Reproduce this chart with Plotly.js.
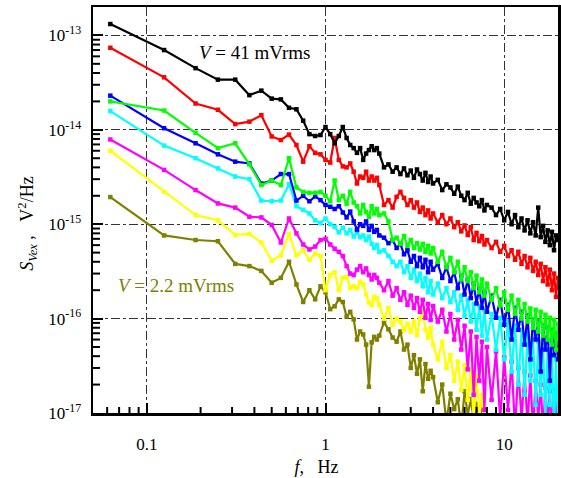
<!DOCTYPE html>
<html>
<head>
<meta charset="utf-8">
<script src="https://cdn.plot.ly/plotly-3.0.1.min.js"></script>
<style>
  html, body { margin: 0; padding: 0; background: #ffffff; }
  #chart { width: 561px; height: 478px; }
</style>
</head>
<body>
<div id="chart"></div>
<script>
// Frequency bins, Hz
const freq = [
  0.0625, 0.125, 0.1875, 0.25, 0.3125, 0.375, 0.4375, 0.5,
  0.5625, 0.625, 0.6875, 0.75, 0.8125, 0.875, 0.9375, 1.0,
  1.0625, 1.125, 1.1875, 1.25, 1.3125, 1.375, 1.4375, 1.5,
  1.5625, 1.625, 1.6875, 1.75, 1.8125, 1.875, 1.9375, 2.0,
  2.125, 2.25, 2.375, 2.5, 2.625, 2.75, 2.875, 3.0,
  3.125, 3.25, 3.375, 3.5, 3.625, 3.75, 3.875, 4.0,
  4.25, 4.5, 4.75, 5.0, 5.25, 5.5, 5.75, 6.0,
  6.25, 6.5, 6.75, 7.0, 7.25, 7.5, 7.75, 8.0,
  8.5, 9.0, 9.5, 10.0, 10.5, 11.0, 11.5, 12.0,
  12.5, 13.0, 13.5, 14.0, 14.5, 15.0, 15.5, 16.0,
  16.5, 17.0, 17.5, 18.0, 18.5, 19.0, 19.5, 20.0
];

// Noise spectral density S_Vex, V^2/Hz, one array per excitation amplitude
const s41 = [
  1.32e-13, 7.0e-14, 4.5e-14, 3.4e-14, 3.4e-14, 2.33e-14, 2.6e-14, 2.14e-14,
  2.1e-14, 1.71e-14, 1.65e-14, 1.25e-14, 9.0e-15, 8.6e-15, 8.8e-15, 1.07e-14,
  9.0e-15, 7.2e-15, 8.6e-15, 1.07e-14, 8.2e-15, 6.9e-15, 6.4e-15, 5.7e-15,
  6.4e-15, 4.8e-15, 5.6e-15, 6.1e-15, 6.7e-15, 6.1e-15, 6.4e-15, 5.6e-15,
  4.0e-15, 4.3e-15, 3.6e-15, 4.0e-15, 3.4e-15, 3.9e-15, 3.3e-15, 3.7e-15,
  3.1e-15, 3.8e-15, 3.4e-15, 2.9e-15, 3.5e-15, 2.8e-15, 3.2e-15, 2.7e-15,
  2.95e-15, 2.3e-15, 2.65e-15, 2.45e-15, 2.1e-15, 2.5e-15, 2.0e-15, 1.8e-15,
  2.15e-15, 1.65e-15, 1.9e-15, 1.7e-15, 1.55e-15, 1.8e-15, 1.4e-15, 1.6e-15,
  1.5e-15, 1.25e-15, 1.45e-15, 1.1e-15, 1.35e-15, 1.0e-15, 1.25e-15, 9.3e-16,
  1.15e-15, 8.6e-16, 1.1e-15, 8.0e-16, 1.05e-15, 7.6e-16, 1.5e-15, 7.3e-16,
  9.6e-16, 6.5e-16, 8.6e-16, 6.0e-16, 8.3e-16, 5.3e-16, 7.6e-16, 6.8e-16
];
const s31 = [
  7.4e-14, 3.6e-14, 1.9e-14, 1.63e-14, 1.15e-14, 1.22e-14, 1.43e-14, 8.5e-15,
  7.8e-15, 8.9e-15, 6.9e-15, 4.6e-15, 6.7e-15, 5.7e-15, 5.5e-15, 4.8e-15,
  4.5e-15, 8.2e-15, 4.8e-15, 4.1e-15, 4.0e-15, 4.4e-15, 3.6e-15, 2.7e-15,
  3.2e-15, 3.1e-15, 3.6e-15, 2.9e-15, 3.2e-15, 2.9e-15, 3.1e-15, 2.6e-15,
  1.6e-15, 1.8e-15, 1.5e-15, 1.95e-15, 2.2e-15, 1.9e-15, 1.6e-15, 1.8e-15,
  1.5e-15, 1.7e-15, 1.35e-15, 1.5e-15, 1.25e-15, 1.4e-15, 1.15e-15, 1.3e-15,
  1.05e-15, 1.25e-15, 1.0e-15, 1.15e-15, 9.3e-16, 1.05e-15, 8.4e-16, 9.7e-16,
  7.7e-16, 9.3e-16, 6.8e-16, 8.1e-16, 6.6e-16, 7.5e-16, 6.1e-16, 6.8e-16,
  5.6e-16, 6.5e-16, 5.1e-16, 5.9e-16, 4.6e-16, 5.3e-16, 4.2e-16, 5.1e-16,
  3.8e-16, 4.6e-16, 3.5e-16, 4.4e-16, 3.2e-16, 4.0e-16, 2.9e-16, 3.8e-16,
  2.5e-16, 3.5e-16, 2.3e-16, 3.3e-16, 2.0e-16, 3.0e-16, 1.7e-16, 2.7e-16
];
const s22 = [
  2.0e-14, 1.6e-14, 9.3e-15, 6.4e-15, 7.2e-15, 4.3e-15, 2.6e-15, 2.9e-15,
  2.6e-15, 5.0e-15, 2.45e-15, 2.2e-15, 2.15e-15, 2.15e-15, 2.2e-15, 2.0e-15,
  1.75e-15, 2.9e-15, 1.8e-15, 2.0e-15, 1.65e-15, 2.2e-15, 1.7e-15, 1.55e-15,
  1.3e-15, 1.6e-15, 1.35e-15, 1.2e-15, 1.55e-15, 1.3e-15, 1.45e-15, 1.25e-15,
  1.3e-15, 1.07e-15, 6.8e-16, 7.2e-16, 6.2e-16, 7.5e-16, 5.9e-16, 6.8e-16,
  5.6e-16, 6.3e-16, 5.4e-16, 6.2e-16, 5.1e-16, 5.9e-16, 4.9e-16, 5.6e-16,
  4.0e-16, 5.1e-16, 3.5e-16, 4.4e-16, 3.1e-16, 4.0e-16, 2.6e-16, 3.5e-16,
  2.5e-16, 3.1e-16, 2.1e-16, 2.85e-16, 1.9e-16, 2.6e-16, 1.75e-16, 2.35e-16,
  1.58e-16, 2.1e-16, 1.38e-16, 1.9e-16, 1.24e-16, 1.75e-16, 1.12e-16, 1.58e-16,
  1.0e-16, 1.43e-16, 9.3e-17, 1.28e-16, 8.0e-17, 1.24e-16, 7.3e-17, 1.18e-16,
  6.6e-17, 1.1e-16, 6.0e-17, 1.02e-16, 5.3e-17, 9.7e-17, 4.7e-17, 8.8e-17
];
const s16 = [
  2.3e-14, 1.04e-14, 7.2e-15, 5.5e-15, 4.6e-15, 4.4e-15, 2.7e-15, 2.9e-15,
  3.4e-15, 3.4e-15, 1.78e-15, 2.0e-15, 1.75e-15, 1.97e-15, 1.8e-15, 1.6e-15,
  1.53e-15, 1.45e-15, 1.55e-15, 1.33e-15, 1.18e-15, 1.36e-15, 1.07e-15, 8.7e-16,
  1.0e-15, 9.6e-16, 1.07e-15, 8.7e-16, 9.6e-16, 8.3e-16, 8.7e-16, 7.6e-16,
  7.2e-16, 6.3e-16, 6.8e-16, 5.6e-16, 6.2e-16, 4.8e-16, 5.3e-16, 4.0e-16,
  4.6e-16, 3.6e-16, 4.4e-16, 3.5e-16, 4.2e-16, 3.1e-16, 4.0e-16, 3.3e-16,
  3.8e-16, 2.7e-16, 3.5e-16, 2.5e-16, 3.1e-16, 2.1e-16, 2.85e-16, 1.8e-16,
  2.6e-16, 1.65e-16, 2.35e-16, 1.45e-16, 2.1e-16, 1.3e-16, 1.9e-16, 1.18e-16,
  1.75e-16, 1.02e-16, 1.58e-16, 8.6e-17, 1.4e-16, 6.0e-17, 1.3e-16, 7.6e-17,
  1.18e-16, 5.3e-17, 1.08e-16, 3.7e-17, 9.7e-17, 6.0e-17, 9.3e-17, 2.75e-17,
  8.4e-17, 4.7e-17, 8.0e-17, 2.2e-17, 7.6e-17, 4.1e-17, 6.9e-17, 3.7e-17
];
const s11 = [
  1.58e-14, 6.8e-15, 5.0e-15, 3.9e-15, 3.2e-15, 3.0e-15, 1.78e-15, 1.75e-15,
  1.78e-15, 2.65e-15, 1.55e-15, 1.42e-15, 1.3e-15, 1.1e-15, 1.03e-15, 1.15e-15,
  1.0e-15, 9.4e-16, 8.2e-16, 9.2e-16, 8.0e-16, 8.7e-16, 7.4e-16, 8.2e-16,
  7.3e-16, 7.6e-16, 6.8e-16, 7.4e-16, 6.2e-16, 5.6e-16, 6.0e-16, 5.1e-16,
  5.3e-16, 4.6e-16, 4.0e-16, 3.6e-16, 4.0e-16, 3.1e-16, 3.6e-16, 2.7e-16,
  3.3e-16, 2.5e-16, 3.0e-16, 2.2e-16, 2.7e-16, 1.9e-16, 2.5e-16, 1.8e-16,
  2.35e-16, 1.65e-16, 2.1e-16, 1.5e-16, 1.9e-16, 1.24e-16, 1.75e-16, 1.07e-16,
  1.58e-16, 9.3e-17, 1.43e-16, 7.6e-17, 1.36e-16, 6.6e-17, 1.24e-16, 6.0e-17,
  1.12e-16, 4.7e-17, 1.02e-16, 3.7e-17, 9.3e-17, 2.75e-17, 8.4e-17, 2.0e-17,
  7.6e-17, 1.56e-17, 6.9e-17, 2.2e-17, 6.3e-17, 1.22e-17, 5.7e-17, 1.56e-17,
  5.2e-17, 8.5e-18, 4.7e-17, 1.22e-17, 4.1e-17, 6.6e-18, 3.7e-17, 8.5e-18
];
const s7 = [
  7.9e-15, 3.76e-15, 2.3e-15, 1.66e-15, 1.5e-15, 1.2e-15, 1.18e-15, 9.8e-16,
  6.4e-16, 1.15e-15, 8.0e-16, 6.1e-16, 5.4e-16, 5.8e-16, 6.8e-16, 7.0e-16,
  6.1e-16, 5.5e-16, 5.1e-16, 4.6e-16, 3.6e-16, 3.0e-16, 2.9e-16, 3.3e-16,
  3.6e-16, 3.1e-16, 3.4e-16, 2.9e-16, 2.6e-16, 2.9e-16, 2.7e-16, 2.4e-16,
  2.0e-16, 2.5e-16, 1.75e-16, 2.1e-16, 1.58e-16, 1.9e-16, 1.4e-16, 1.75e-16,
  1.3e-16, 1.65e-16, 1.18e-16, 1.58e-16, 1.02e-16, 1.43e-16, 9.7e-17, 1.36e-16,
  9.3e-17, 1.24e-16, 7.3e-17, 1.12e-16, 6.0e-17, 9.7e-17, 4.7e-17, 8.4e-17,
  2.9e-17, 7.3e-17, 1.56e-17, 6.4e-17, 2.2e-17, 5.7e-17, 1.08e-17, 5.0e-17,
  1.38e-17, 4.5e-17, 8.5e-18, 3.9e-17, 1.08e-17, 3.5e-17, 6.6e-18, 3.0e-17,
  8.5e-18, 2.75e-17, 7.5e-18, 2.5e-17, 6.6e-18, 2.2e-17, 8.5e-18, 2.0e-17,
  6.6e-18, 1.85e-17, 7.5e-18, 1.7e-17, 6.6e-18, 1.76e-17, 7.5e-18, 1.56e-17
];
const s4 = [
  6.0e-15, 2.2e-15, 1.25e-15, 1.1e-15, 7.7e-16, 7.9e-16, 6.4e-16, 4.1e-16,
  4.7e-16, 7.9e-16, 4.7e-16, 5.3e-16, 4.2e-16, 4.9e-16, 4.6e-16, 2.0e-16,
  2.9e-16, 3.1e-16, 2.0e-16, 2.7e-16, 2.75e-16, 2.1e-16, 2.2e-16, 2.1e-16,
  2.45e-16, 2.3e-16, 1.8e-16, 1.48e-16, 1.4e-16, 1.7e-16, 1.63e-16, 1.4e-16,
  1.0e-16, 1.3e-16, 8.6e-17, 1.0e-16, 9.3e-17, 7.6e-17, 8.8e-17, 7.3e-17,
  9.3e-17, 6.7e-17, 1.0e-16, 1.24e-16, 7.6e-17, 6.3e-17, 8.0e-17, 5.3e-17,
  3.7e-17, 5.7e-17, 3.0e-17, 4.1e-17, 2.2e-17, 3.5e-17, 1.76e-17, 3.2e-17,
  1.38e-17, 2.9e-17, 8.5e-18, 2.5e-17, 9.6e-18, 1.56e-17, 6.6e-18, 7.0e-18,
  5.5e-18, 6.5e-18, 5.0e-18, 6.0e-18, 4.8e-18, 5.8e-18, 4.5e-18, 5.5e-18,
  4.2e-18, 5.2e-18, 4.0e-18, 5.0e-18, 3.8e-18, 4.8e-18, 3.6e-18, 4.5e-18,
  3.5e-18, 4.2e-18, 3.3e-18, 4.0e-18, 3.2e-18, 3.8e-18, 3.0e-18, 3.6e-18
];
const s2_2 = [
  1.94e-15, 7.6e-16, 6.8e-16, 6.6e-16, 3.8e-16, 3.6e-16, 3.2e-16, 2.4e-16,
  2.7e-16, 4.0e-16, 2.3e-16, 1.5e-16, 2.0e-16, 1.6e-16, 2.2e-16, 1.9e-16,
  1.26e-16, 1.35e-16, 1.6e-16, 1.5e-16, 1.05e-16, 1.18e-16, 9.8e-17, 6.0e-17,
  7.3e-17, 6.8e-17, 5.3e-17, 1.9e-17, 5.6e-17, 6.4e-17, 6.0e-17, 6.6e-17,
  9.1e-17, 7.7e-17, 6.3e-17, 5.7e-17, 7.3e-17, 4.7e-17, 5.3e-17, 3.0e-17,
  4.1e-17, 2.6e-17, 3.7e-17, 1.7e-17, 3.3e-17, 2.3e-17, 2.8e-17, 2.4e-17,
  1.3e-17, 2.0e-17, 8.0e-18, 1.6e-17, 1.1e-17, 1.4e-17, 7.0e-18, 1.7e-17,
  9.5e-18, 1.4e-17, 8.5e-18, 1.25e-17, 7.0e-18, 1.1e-17, 6.0e-18, 5.5e-18,
  5.0e-18, 4.5e-18, 4.8e-18, 4.2e-18, 4.5e-18, 4.0e-18, 4.2e-18, 3.8e-18,
  4.0e-18, 3.6e-18, 3.8e-18, 3.4e-18, 3.6e-18, 3.2e-18, 3.4e-18, 3.0e-18,
  3.2e-18, 2.9e-18, 3.0e-18, 2.8e-18, 2.9e-18, 2.7e-18, 2.8e-18, 2.6e-18
];

// Drawn from the smallest amplitude upward, so the 41 mVrms curve ends on top
const seriesList = [s2_2, s4, s7, s11, s16, s22, s31, s41];
const seriesColors = ['#808000', '#ffff00', '#ff00ff', '#00ffff',
                      '#0000ff', '#00ff00', '#ff0000', '#000000'];

// Axis ticks
const xTickVals = [0.1, 1, 10];
const xTickText = ['0.1', '1', '10'];
const yTickVals = [1e-17, 1e-16, 1e-15, 1e-14, 1e-13];
const yTickText = ['10<sup>-17</sup>', '10<sup>-16</sup>', '10<sup>-15</sup>',
                   '10<sup>-14</sup>', '10<sup>-13</sup>'];

// Intermediate (2..9 x 10^k) tick positions inside the given limits
function minorTicks(lo, hi, vmin, vmax) {
  const out = [];
  for (let e = lo; e <= hi; e++) {
    for (let m = 2; m <= 9; m++) {
      const v = m * Math.pow(10, e);
      if (v > vmin && v < vmax) out.push(v);
    }
  }
  return out;
}

const X_MIN = 0.05, X_MAX = 20;
const Y_MIN = 1e-17, Y_MAX = 2e-13;

const traces = seriesList.map((ys, i) => ({
  x: freq,
  y: ys,
  type: 'scatter',
  mode: 'lines+markers',
  line: { color: seriesColors[i], width: 2.2 },
  marker: { color: seriesColors[i], symbol: 'square', size: 4.5 },
  showlegend: false,
  hoverinfo: 'x+y'
}));

// Inward tick marks, pinned to the bottom and left frame edges
function xTick(v, len) {
  return {
    type: 'line', layer: 'above',
    xref: 'x', x0: v, x1: v,
    yref: 'paper', ysizemode: 'pixel', yanchor: 0, y0: 0, y1: len,
    line: { color: '#000000', width: 2 }
  };
}
function yTick(v, len) {
  return {
    type: 'line', layer: 'above',
    yref: 'y', y0: v, y1: v,
    xref: 'paper', xsizemode: 'pixel', xanchor: 0, x0: 0, x1: len,
    line: { color: '#000000', width: 2 }
  };
}
const tickShapes = []
  .concat(minorTicks(-2, 1, X_MIN, X_MAX).map(v => xTick(v, 6)))
  .concat(minorTicks(-17, -14, Y_MIN, Y_MAX).map(v => yTick(v, 7)));

const serif = 'Liberation Serif, Times New Roman, serif';

const layout = {
  width: 561,
  height: 478,
  margin: { l: 93, r: 3, t: 7, b: 65 },
  paper_bgcolor: '#ffffff',
  plot_bgcolor: '#ffffff',
  font: { family: serif, size: 17, color: '#000000' },
  showlegend: false,
  xaxis: {
    type: 'log',
    range: [Math.log10(X_MIN), Math.log10(X_MAX)],
    tickmode: 'array',
    tickvals: xTickVals,
    ticktext: xTickText,
    ticks: 'inside',
    ticklen: 10,
    tickwidth: 2,
    tickcolor: '#000000',
    ticklabelstandoff: 14,
    tickfont: { family: serif, size: 17 },
    showline: true,
    linewidth: 2.5,
    linecolor: '#000000',
    mirror: true,
    zeroline: false,
    showgrid: true,
    gridcolor: '#333333',
    gridwidth: 1,
    griddash: 'dashdot',
    title: {
      text: '<i>f</i>,&nbsp;&nbsp;&nbsp;Hz&nbsp;&nbsp;&nbsp;&nbsp;',
      font: { family: serif, size: 18 },
      standoff: 8
    }
  },
  yaxis: {
    type: 'log',
    range: [Math.log10(Y_MIN), Math.log10(Y_MAX)],
    tickmode: 'array',
    tickvals: yTickVals,
    ticktext: yTickText,
    ticks: 'inside',
    ticklen: 10,
    tickwidth: 2,
    tickcolor: '#000000',
    ticklabelstandoff: 6,
    tickfont: { family: serif, size: 17 },
    showline: true,
    linewidth: 2.5,
    linecolor: '#000000',
    mirror: true,
    zeroline: false,
    showgrid: true,
    gridcolor: '#333333',
    gridwidth: 1,
    griddash: 'dashdot',
    title: {
      text: '<i>S</i><sub><i>Vex</i></sub> ,&nbsp;&nbsp;&nbsp;V<sup>2</sup>/Hz&nbsp;&nbsp;&nbsp;&nbsp;&nbsp;&nbsp;',
      font: { family: serif, size: 18 },
      standoff: 10
    }
  },
  shapes: tickShapes,
  annotations: [
    {
      xref: 'paper', yref: 'paper',
      x: 0.348, y: 0.887,
      xanchor: 'center', yanchor: 'middle',
      text: '<i>V</i> = 41 mVrms',
      showarrow: false,
      font: { family: serif, size: 19, color: '#000000' }
    },
    {
      xref: 'paper', yref: 'paper',
      x: 0.178, y: 0.315,
      xanchor: 'center', yanchor: 'middle',
      text: '<i>V</i> = 2.2 mVrms',
      showarrow: false,
      font: { family: serif, size: 19, color: '#808000' }
    }
  ]
};

Plotly.newPlot('chart', traces, layout, { displayModeBar: false, staticPlot: true });
</script>
</body>
</html>
